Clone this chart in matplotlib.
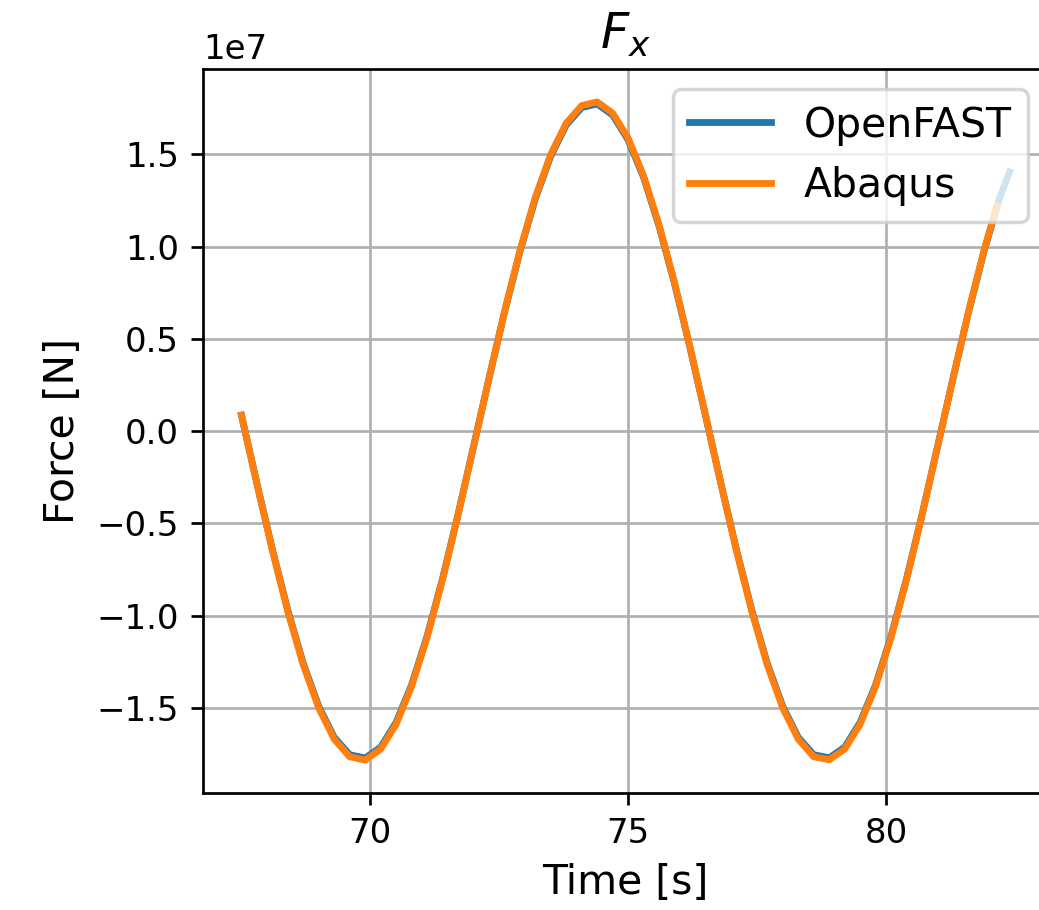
import matplotlib
matplotlib.use("Agg")

import matplotlib.pyplot as plt
from matplotlib.ticker import MultipleLocator

# time samples [s]
t_openfast = [67.5, 67.8, 68.1, 68.4, 68.7, 69.0, 69.3, 69.6, 69.9, 70.2,
              70.5, 70.8, 71.1, 71.4, 71.7, 72.0, 72.3, 72.6, 72.9, 73.2,
              73.5, 73.8, 74.1, 74.4, 74.7, 75.0, 75.3, 75.6, 75.9, 76.2,
              76.5, 76.8, 77.1, 77.4, 77.7, 78.0, 78.3, 78.6, 78.9, 79.2,
              79.5, 79.8, 80.1, 80.4, 80.7, 81.0, 81.3, 81.6, 81.9, 82.2,
              82.4]
# OpenFAST force [1e7 N]
f_openfast = [0.086, -0.283, -0.641, -0.971, -1.259, -1.491, -1.659, -1.753, -1.771, -1.713,
              -1.578, -1.375, -1.111, -0.800, -0.453, -0.086, 0.283, 0.641, 0.971, 1.259,
              1.491, 1.659, 1.753, 1.773, 1.713, 1.578, 1.375, 1.111, 0.800, 0.453,
              0.086, -0.283, -0.641, -0.971, -1.259, -1.491, -1.659, -1.753, -1.770, -1.713,
              -1.578, -1.375, -1.111, -0.800, -0.453, -0.086, 0.283, 0.641, 0.971, 1.259,
              1.405]

t_abaqus = [67.5, 67.8, 68.1, 68.4, 68.7, 69.0, 69.3, 69.6, 69.9, 70.2,
            70.5, 70.8, 71.1, 71.4, 71.7, 72.0, 72.3, 72.6, 72.9, 73.2,
            73.5, 73.8, 74.1, 74.4, 74.7, 75.0, 75.3, 75.6, 75.9, 76.2,
            76.5, 76.8, 77.1, 77.4, 77.7, 78.0, 78.3, 78.6, 78.9, 79.2,
            79.5, 79.8, 80.1, 80.4, 80.7, 81.0, 81.3, 81.6, 81.9, 82.15]
# Abaqus force [1e7 N]
f_abaqus = [0.087, -0.285, -0.645, -0.977, -1.267, -1.500, -1.669, -1.764, -1.782, -1.723,
            -1.588, -1.383, -1.118, -0.805, -0.456, -0.087, 0.285, 0.645, 0.977, 1.267,
            1.500, 1.669, 1.764, 1.784, 1.723, 1.588, 1.383, 1.118, 0.805, 0.456,
            0.087, -0.285, -0.645, -0.977, -1.267, -1.500, -1.669, -1.764, -1.780, -1.723,
            -1.588, -1.383, -1.118, -0.805, -0.456, -0.087, 0.285, 0.645, 0.977, 1.22]

plt.rcParams["font.size"] = 12
plt.rcParams["xtick.labelsize"] = 10
plt.rcParams["ytick.labelsize"] = 10

DPI = 245
fig = plt.figure(figsize=(1039 / DPI, 910 / DPI), dpi=DPI)
# axes runs off the right edge, like the reference
ax = fig.add_axes([0.1954, 0.1286, 0.8133, 0.7956])

ax.plot(t_openfast, [v * 1e7 for v in f_openfast], color="tab:blue", lw=2, label="OpenFAST")
ax.plot(t_abaqus, [v * 1e7 for v in f_abaqus], color="tab:orange", lw=2, label="Abaqus")

ax.xaxis.set_major_locator(MultipleLocator(5))
ax.set_title("$F_x$")
ax.set_xlabel("Time [s]")
ax.set_ylabel("Force [N]")
ax.grid(True)
ax.legend(loc="upper right")

fig.savefig("out.png", dpi=DPI)
